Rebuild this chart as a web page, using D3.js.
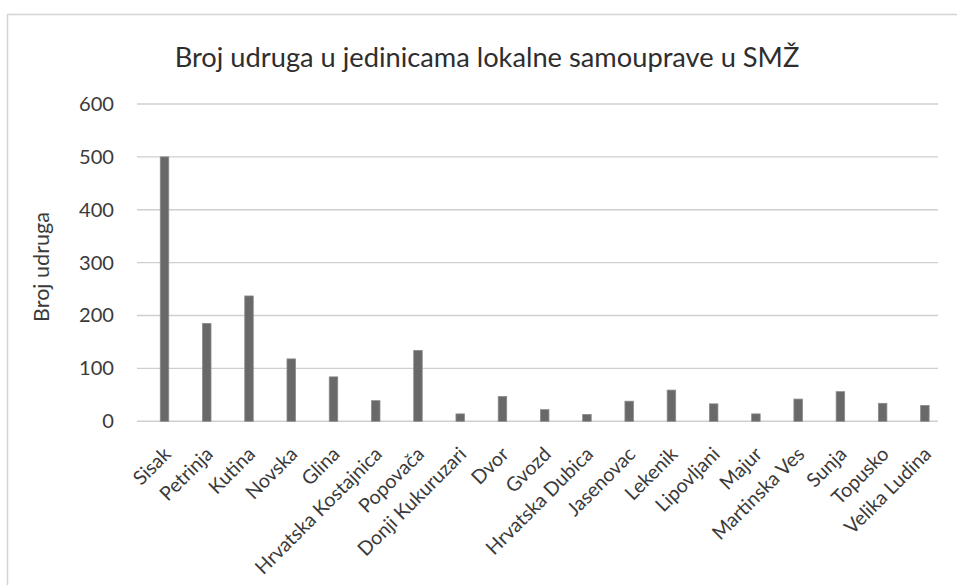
<!DOCTYPE html>
<html>
<head>
<meta charset="utf-8">
<script src="https://cdn.jsdelivr.net/npm/d3@7"></script>
<style>
  html, body { margin: 0; padding: 0; background: #ffffff; }
  svg { display: block; }
</style>
</head>
<body>
<svg id="chart" width="957" height="585"></svg>
<script>
const categories = ["Sisak", "Petrinja", "Kutina", "Novska", "Glina", "Hrvatska Kostajnica", "Popovača",
  "Donji Kukuruzari", "Dvor", "Gvozd", "Hrvatska Dubica", "Jasenovac", "Lekenik", "Lipovljani",
  "Majur", "Martinska Ves", "Sunja", "Topusko", "Velika Ludina"];
const values = [500, 185, 237, 118, 84, 39, 134, 14, 47, 22, 13, 38, 59, 33, 14, 42, 56, 34, 30];
const yTicks = [0, 100, 200, 300, 400, 500, 600];
const titleText = "Broj udruga u jedinicama lokalne samouprave u SMŽ";
const yTitle = "Broj udruga";

const font = "Lato, 'Open Sans', sans-serif";
const svg = d3.select("#chart");

// helper: font size that makes a string a given width
function fitSize(str, width) {
  const tmp = svg.append("text").attr("font-family", font).attr("font-size", 20).text(str);
  const w = tmp.node().getComputedTextLength();
  tmp.remove();
  return 20 * width / w;
}

// frame (scanned chart border)
svg.append("line").attr("x1", 7).attr("x2", 957).attr("y1", 14.5).attr("y2", 14.5)
  .attr("stroke", "#d4d4d4").attr("stroke-width", 1.5);
svg.append("line").attr("x1", 7.5).attr("x2", 7.5).attr("y1", 14).attr("y2", 585)
  .attr("stroke", "#d4d4d4").attr("stroke-width", 1.5);

const x = d3.scaleBand().domain(categories).range([143.4, 946]).paddingInner(0.8).paddingOuter(0.4);
const y = d3.scaleLinear().domain([0, 600]).range([421.3, 104]);

// gridlines
const gridX0 = 137, gridX1 = 938;
svg.append("g").selectAll("line").data(yTicks).join("line")
  .attr("x1", gridX0).attr("x2", gridX1)
  .attr("y1", d => y(d)).attr("y2", d => y(d))
  .attr("stroke", "#cfcfcf").attr("stroke-width", 1.4);

// y axis labels
const tickFs = fitSize("600", 35);
const yAxis = d3.axisLeft(y).tickValues(yTicks).tickSize(0).tickPadding(0);
const gy = svg.append("g").attr("transform", `translate(114,0)`).call(yAxis);
gy.select(".domain").remove();
gy.selectAll("text").attr("font-family", font).attr("font-size", tickFs).attr("fill", "#3a3a3a");

// bars
const bw = 8.5;
svg.append("g").selectAll("rect").data(values).join("rect")
  .attr("x", (d, i) => x(categories[i]) + x.bandwidth() / 2 - bw / 2)
  .attr("width", bw)
  .attr("y", d => y(d))
  .attr("height", d => y(0) - y(d))
  .attr("fill", "#696969")
  .attr("stroke", "#8a8a8a")
  .attr("stroke-width", 0.8);

// x axis labels
const labFs = fitSize("Velika Ludina", 113);
const off = 0.72 * labFs * Math.SQRT1_2;
const xAxis = d3.axisBottom(x).tickSize(0).tickPadding(0);
const gx = svg.append("g").attr("transform", `translate(0,${y(0)})`).call(xAxis);
gx.select(".domain").remove();
gx.selectAll("text")
  .attr("font-family", font).attr("font-size", labFs).attr("fill", "#3a3a3a")
  .attr("text-anchor", "end")
  .attr("dy", null).attr("y", 0)
  .attr("transform", `translate(${-2.5 + off},${445.5 - y(0) + off}) rotate(-45)`);

// title
const titleFs = fitSize(titleText, 625);
svg.append("text").attr("x", 487).attr("y", 47 + 0.72 * titleFs).attr("text-anchor", "middle")
  .attr("font-family", font).attr("font-size", titleFs).attr("fill", "#2e2e2e").text(titleText);

// y title
const yFs = fitSize(yTitle, 110);
svg.append("text").attr("transform", `translate(${33 + 0.72 * yFs},267) rotate(-90)`)
  .attr("text-anchor", "middle").attr("font-family", font).attr("font-size", yFs)
  .attr("fill", "#3a3a3a").text(yTitle);
</script>
</body>
</html>
